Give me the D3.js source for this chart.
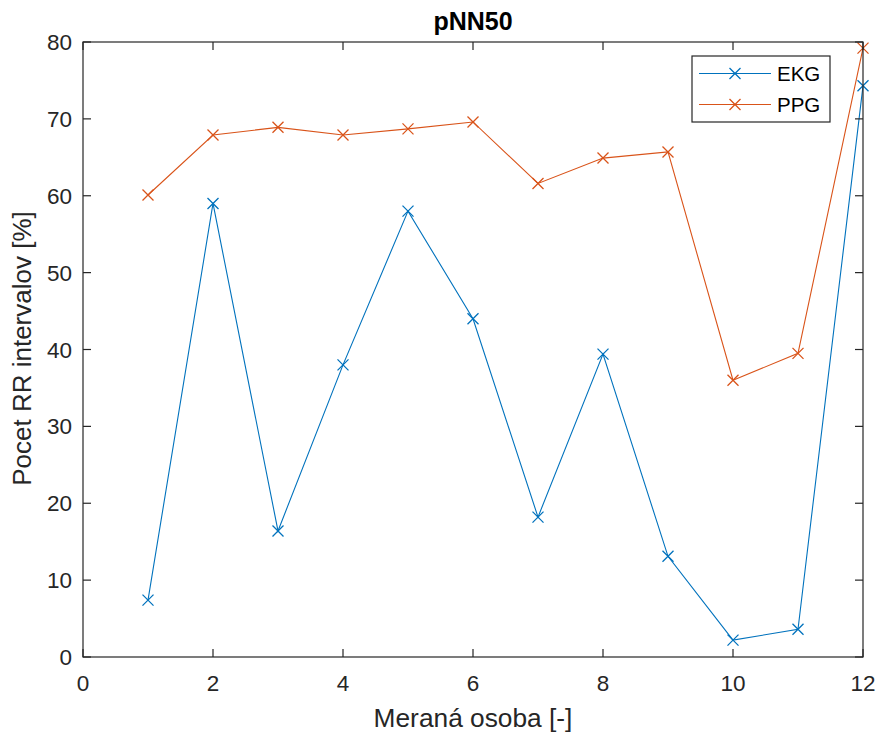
<!DOCTYPE html>
<html>
<head>
<meta charset="utf-8">
<script src="https://cdn.jsdelivr.net/npm/d3@7/dist/d3.min.js"></script>
<style>
  body { margin: 0; background: #fff; }
  text { font-family: "Liberation Sans", Arial, Helvetica, sans-serif; fill: #262626; }
</style>
</head>
<body>
<svg id="chart" width="876" height="733"></svg>
<script>
const persons = [1, 2, 3, 4, 5, 6, 7, 8, 9, 10, 11, 12];
const ekg = [7.4, 59.0, 16.4, 38.0, 58.0, 44.0, 18.2, 39.4, 13.1, 2.2, 3.6, 74.3];
const ppg = [60.1, 67.9, 68.9, 67.9, 68.7, 69.6, 61.6, 64.9, 65.7, 36.0, 39.5, 79.2];
const xTicks = [0, 2, 4, 6, 8, 10, 12];
const yTicks = [0, 10, 20, 30, 40, 50, 60, 70, 80];
const seriesNames = ["EKG", "PPG"];
const seriesColors = ["#0072BD", "#D95319"];
const titleText = "pNN50";
const xLabel = "Meraná osoba [-]";
const yLabel = "Pocet RR intervalov [%]";

const svg = d3.select("#chart");
const L = 83, R = 863, T = 42, B = 657;
const x = d3.scaleLinear().domain([0, 12]).range([L, R]);
const y = d3.scaleLinear().domain([0, 80]).range([B, T]);
const axisColor = "#262626";
const tickLen = 8;

// series
const seriesData = [ekg, ppg];
const line = d3.line().x((d, i) => x(persons[i])).y(d => y(d));
const g = svg.append("g");
seriesData.forEach((vals, si) => {
  g.append("path").datum(vals).attr("d", line)
    .attr("fill", "none").attr("stroke", seriesColors[si]).attr("stroke-width", 1.1);
  const m = 5.5;
  g.selectAll(null).data(vals).enter().append("path")
    .attr("d", (d, i) => {
      const cx = x(persons[i]), cy = y(d);
      return `M${cx - m},${cy - m}L${cx + m},${cy + m}M${cx - m},${cy + m}L${cx + m},${cy - m}`;
    })
    .attr("stroke", seriesColors[si]).attr("stroke-width", 1.3).attr("fill", "none");
});

// axes (box)
const ax = svg.append("g");
ax.append("rect").attr("x", L).attr("y", T).attr("width", R - L).attr("height", B - T)
  .attr("fill", "none").attr("stroke", axisColor).attr("stroke-width", 1.2);

// x ticks
xTicks.forEach(t => {
  const px = x(t);
  ax.append("line").attr("x1", px).attr("x2", px).attr("y1", B).attr("y2", B - tickLen).attr("stroke", axisColor).attr("stroke-width", 1.2);
  ax.append("line").attr("x1", px).attr("x2", px).attr("y1", T).attr("y2", T + tickLen).attr("stroke", axisColor).attr("stroke-width", 1.2);
  ax.append("text").attr("x", px).attr("y", B + 34).attr("text-anchor", "middle")
    .attr("font-size", 22.5).text(t);
});
// y ticks
yTicks.forEach(t => {
  const py = y(t);
  ax.append("line").attr("x1", L).attr("x2", L + tickLen).attr("y1", py).attr("y2", py).attr("stroke", axisColor).attr("stroke-width", 1.2);
  ax.append("line").attr("x1", R).attr("x2", R - tickLen).attr("y1", py).attr("y2", py).attr("stroke", axisColor).attr("stroke-width", 1.2);
  ax.append("text").attr("x", L - 11).attr("y", py + 8).attr("text-anchor", "end")
    .attr("font-size", 22.5).text(t);
});

// title & labels
svg.append("text").attr("x", (L + R) / 2).attr("y", 30).attr("text-anchor", "middle")
  .attr("font-size", 25).attr("font-weight", "bold").style("fill", "#000").text(titleText);
svg.append("text").attr("x", (L + R) / 2).attr("y", 727).attr("text-anchor", "middle")
  .attr("font-size", 26.3).text(xLabel);
svg.append("text").attr("transform", `translate(31,${(T + B) / 2 - 1}) rotate(-90)`)
  .attr("text-anchor", "middle").attr("font-size", 26).text(yLabel);

// legend
const lg = svg.append("g");
lg.append("rect").attr("x", 692).attr("y", 56).attr("width", 138).attr("height", 66)
  .attr("fill", "#fff").attr("stroke", axisColor).attr("stroke-width", 1.2);
seriesNames.forEach((name, i) => {
  const ly = 73.5 + i * 31;
  lg.append("line").attr("x1", 699).attr("x2", 771).attr("y1", ly).attr("y2", ly)
    .attr("stroke", seriesColors[i]).attr("stroke-width", 1.1);
  const cx = 735, m = 5.5;
  lg.append("path").attr("d", `M${cx - m},${ly - m}L${cx + m},${ly + m}M${cx - m},${ly + m}L${cx + m},${ly - m}`)
    .attr("stroke", seriesColors[i]).attr("stroke-width", 1.3);
  lg.append("text").attr("x", 777).attr("y", ly + 7.5).attr("font-size", 20.5).style("fill", "#000").text(name);
});
</script>
</body>
</html>
